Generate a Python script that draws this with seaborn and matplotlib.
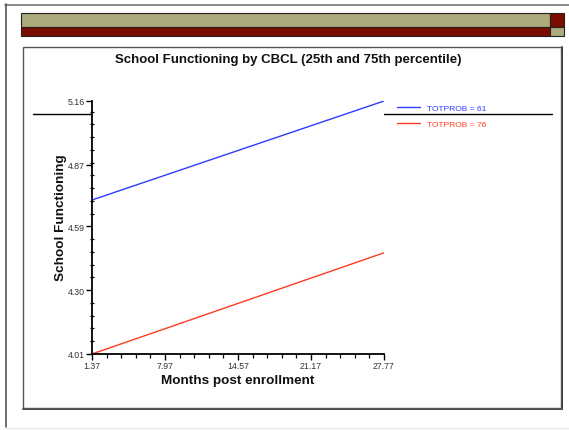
import matplotlib
matplotlib.use("Agg")
import matplotlib.pyplot as plt
from matplotlib.patches import Rectangle
from matplotlib.lines import Line2D
from matplotlib.ticker import FixedLocator, AutoMinorLocator
import numpy as np
import pandas as pd
import seaborn as sns

# Predicted school functioning at the 25th / 75th percentile of CBCL total problems
months = [1.37, 27.77]
sf_totprob_61 = [4.71, 5.16]
sf_totprob_76 = [4.01, 4.47]
series_labels = ["TOTPROB = 61", "TOTPROB = 76"]
x_ticks = [1.37, 7.97, 14.57, 21.17, 27.77]
y_ticks = [4.01, 4.30, 4.59, 4.87, 5.16]

df = pd.DataFrame({
    "Months post enrollment": months * 2,
    "School Functioning": sf_totprob_61 + sf_totprob_76,
    "group": [series_labels[0]] * len(months) + [series_labels[1]] * len(months),
})

sns.set_theme(style="white")
plt.rcParams["font.family"] = ["Liberation Sans", "DejaVu Sans"]

W, H = 569, 431
fig = plt.figure(figsize=(W / 100, H / 100), dpi=100)
fig.patch.set_facecolor("white")


def fx(px):
    return px / W


def fy(py):
    return 1 - py / H


def rect(x0, y0, x1, y1, **kw):
    fig.patches.append(Rectangle((fx(x0), fy(y1)), fx(x1) - fx(x0), fy(y0) - fy(y1),
                                 transform=fig.transFigure, **kw))


def hline(x0, x1, y, **kw):
    fig.lines.append(Line2D([fx(x0), fx(x1)], [fy(y), fy(y)], transform=fig.transFigure, **kw))


def vline(x, y0, y1, **kw):
    fig.lines.append(Line2D([fx(x), fx(x)], [fy(y0), fy(y1)], transform=fig.transFigure, **kw))


olive = "#ADAB7B"
maroon = "#7A0C00"

# slide frame
hline(5, 569, 5.5, color="#777777", lw=1.2, zorder=0)
vline(5.5, 5, 428, color="#555555", lw=1.2, zorder=0)
hline(5, 569, 428.5, color="#e8e8e8", lw=1.0, zorder=0)

# banner bars
rect(21, 14, 550, 28, facecolor=olive, edgecolor="#222222", lw=0.8, zorder=0)
rect(21, 28, 550, 37, facecolor=maroon, edgecolor="#222222", lw=0.8, zorder=0)
rect(550, 14, 564, 28, facecolor=maroon, edgecolor="#222222", lw=0.8, zorder=0)
rect(550, 28, 564, 37, facecolor=olive, edgecolor="#222222", lw=0.8, zorder=0)

# chart box with slight shadow on right/bottom
rect(23, 48, 561, 409, facecolor="white", edgecolor="#555555", lw=1.0, zorder=0)
vline(561.5, 48, 410, color="#333333", lw=1.4, zorder=0)
hline(23, 562, 409.5, color="#444444", lw=1.4, zorder=0)

# reference rule that runs across the chart behind the plot area
hline(33, 552, 114.5, color="black", lw=1.0, zorder=0.5)

ax = fig.add_axes([fx(92), fy(355), fx(384) - fx(92), fy(102) - fy(355)])
ax.set_facecolor("white")
ax.set_zorder(1)

blue = "#2B3BFF"
red = "#FF3A22"
sns.lineplot(data=df, x="Months post enrollment", y="School Functioning", hue="group",
             palette={series_labels[0]: blue, series_labels[1]: red},
             lw=1.0, ax=ax, legend=False)

ax.set_xlim(x_ticks[0], x_ticks[-1])
ax.set_ylim(y_ticks[0], y_ticks[-1])
ax.xaxis.set_major_locator(FixedLocator(x_ticks))
ax.yaxis.set_major_locator(FixedLocator(y_ticks))
ax.set_xticklabels([f"{v:.2f}" for v in x_ticks])
ax.set_yticklabels([f"{v:.2f}" for v in y_ticks])
ax.xaxis.set_minor_locator(AutoMinorLocator(5))
ax.yaxis.set_minor_locator(AutoMinorLocator(5))

for s in ["top", "right"]:
    ax.spines[s].set_visible(False)
for s in ["left", "bottom"]:
    ax.spines[s].set_color("black")
    ax.spines[s].set_linewidth(1.3)

ax.tick_params(axis="both", which="major", direction="out", length=4, width=1.0,
               color="black", labelsize=6.3, labelcolor="#333333", pad=1)
ax.tick_params(axis="both", which="minor", direction="inout", length=3, width=0.9, color="black")
ax.tick_params(axis="x", which="minor", direction="out", length=3)
ax.tick_params(axis="x", which="both", bottom=True)
ax.tick_params(axis="y", which="both", left=True)

ax.set_xlabel("")
ax.set_ylabel("")
fig.text(fx(238), fy(381.5), "Months post enrollment", ha="center", va="center",
         fontsize=9.7, fontweight="bold", color="#111111")
fig.text(fx(61), fy(218), "School Functioning", ha="center", va="center", rotation=90,
         fontsize=9.7, fontweight="bold", color="#111111")

fig.text(fx(288), fy(60.5), "School Functioning by CBCL (25th and 75th percentile)",
         ha="center", va="center", fontsize=9.5, fontweight="bold", color="#111111")

# legend to the right of the plot
handles = [Line2D([], [], color=blue, lw=1.0), Line2D([], [], color=red, lw=1.0)]
leg = fig.legend(handles, series_labels, loc="upper left",
                 bbox_to_anchor=(fx(397), fy(105)), frameon=False, fontsize=6,
                 handlelength=2.8, handletextpad=0.8, labelspacing=1.0,
                 labelcolor="linecolor", borderaxespad=0, borderpad=0)

fig.savefig("out.png", dpi=100, facecolor="white")
